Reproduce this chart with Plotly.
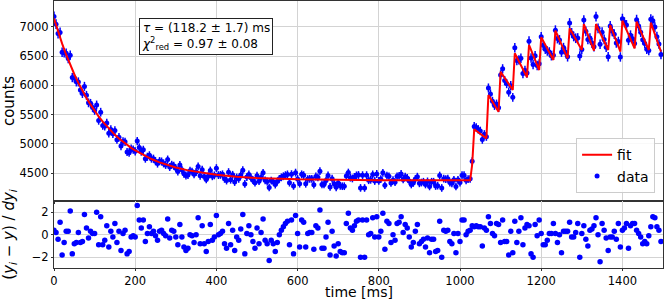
import numpy as np
import plotly.graph_objects as go
from plotly.subplots import make_subplots

# time grid [ms]
time_ms = list(range(0, 1500, 5))

counts = [
    7175, 7043, 6883, 6902, 6564, 6557, 6546, 6457, 6515, 6132,
    6126, 6059, 6058, 5919, 5861, 5982, 5829, 5702, 5693, 5623,
    5572, 5665, 5402, 5542, 5315, 5302, 5358, 5181, 5247, 5176,
    5228, 5074, 5115, 4964, 5043, 5037, 4863, 4852, 4920, 4904,
    4875, 5049, 4938, 4870, 4900, 4750, 4782, 4807, 4750, 4749,
    4707, 4666, 4708, 4701, 4669, 4643, 4734, 4608, 4645, 4628,
    4585, 4529, 4642, 4559, 4491, 4463, 4469, 4543, 4529, 4483,
    4523, 4618, 4458, 4560, 4447, 4395, 4451, 4547, 4449, 4465,
    4588, 4470, 4473, 4483, 4406, 4376, 4520, 4390, 4474, 4351,
    4428, 4405, 4469, 4553, 4318, 4436, 4480, 4425, 4383, 4341,
    4460, 4365, 4430, 4508, 4381, 4359, 4258, 4377, 4356, 4307,
    4359, 4405, 4431, 4450, 4468, 4481, 4340, 4485, 4285, 4511,
    4404, 4323, 4482, 4468, 4321, 4401, 4406, 4406, 4306, 4445,
    4431, 4537, 4310, 4310, 4376, 4462, 4268, 4408, 4322, 4261,
    4334, 4287, 4280, 4280, 4452, 4512, 4425, 4412, 4438, 4465,
    4471, 4251, 4468, 4250, 4468, 4382, 4389, 4481, 4369, 4488,
    4369, 4402, 4508, 4296, 4461, 4448, 4336, 4382, 4349, 4448,
    4455, 4488, 4395, 4442, 4422, 4369, 4309, 4336, 4402, 4442,
    4329, 4342, 4356, 4309, 4362, 4276, 4356, 4356, 4283, 4289,
    4461, 4250, 4408, 4402, 4408, 4342, 4329, 4389, 4276, 4389,
    4342, 4468, 4468, 4380, 4400, 4406, 4705, 5300, 5282, 5249,
    5223, 5075, 5164, 5125, 5955, 5853, 5729, 5656, 5682, 5618,
    6177, 6281, 6081, 6029, 5884, 5995, 5795, 6642, 6422, 6434,
    6462, 6201, 6253, 6209, 6753, 6465, 6355, 6505, 6338, 6366,
    6827, 6682, 6617, 6585, 6569, 6505, 6513, 6940, 6797, 6775,
    6566, 6643, 6565, 6486, 7062, 6894, 6833, 6803, 6807, 6500,
    6610, 7112, 6922, 6782, 6806, 6723, 6657, 7172, 6972, 6700,
    6906, 6783, 6651, 6487, 7012, 6921, 6872, 6723, 6747, 6484,
    7136, 7074, 7029, 6768, 6855, 6794, 6715, 7119, 7013, 6907,
    6777, 6713, 6616, 6594, 7127, 7103, 6994, 6830, 6706, 6524,
]

residuals = [
    0.4, 0.2, -0.4, 1.1, -1.8, -0.7, 0.3, 0.3, 2.1, -1.7,
    -0.8, -0.7, 0.2, -0.7, -0.6, 1.8, 0.6, -0.3, 0.3, 0.1,
    0.1, 2.0, -0.9, 1.6, -0.9, -0.5, 0.8, -1.1, 0.3, -0.2,
    1.0, -0.7, 0.3, -1.4, 0.1, 0.4, -1.7, -1.5, -0.2, -0.1,
    -0.2, 2.6, 1.3, 0.6, 1.3, -0.6, 0.1, 0.7, 0.1, 0.3,
    -0.1, -0.5, 0.3, 0.4, 0.1, -0.1, 1.4, -0.3, 0.4, 0.3,
    -0.2, -0.9, 0.9, -0.2, -1.1, -1.4, -1.2, 0.0, -0.1, -0.7,
    0.0, 1.5, -0.8, 0.8, -0.8, -1.5, -0.6, 0.9, -0.5, -0.2,
    1.7, 0.0, 0.1, 0.3, -0.8, -1.2, 1.0, -0.9, 0.4, -1.4,
    -0.2, -0.5, 0.5, 1.8, -1.7, 0.1, 0.8, 0.0, -0.6, -1.2,
    0.6, -0.8, 0.2, 1.4, -0.5, -0.8, -2.3, -0.5, -0.8, -1.5,
    -0.7, 0.0, 0.4, 0.7, 1.0, 1.2, -0.9, 1.3, -1.7, 1.7,
    0.1, -1.1, 1.3, 1.1, -1.1, 0.1, 0.2, 0.2, -1.3, 0.8,
    0.6, 2.2, -1.2, -1.2, -0.2, 1.1, -1.8, 0.3, -1.0, -1.9,
    -0.8, -1.5, -1.6, -1.6, 1.0, 1.9, 0.6, 0.4, 0.8, 1.2,
    1.3, -2.0, 1.3, -2.0, 1.3, 0.0, 0.1, 1.5, -0.2, 1.6,
    -0.2, 0.3, 1.9, -1.3, 1.2, 1.0, -0.7, 0.0, -0.5, 1.0,
    1.1, 1.6, 0.2, 0.9, 0.6, -0.2, -1.1, -0.7, 0.3, 0.9,
    -0.8, -0.6, -0.4, -1.1, -0.3, -1.6, -0.4, -0.4, -1.5, -1.4,
    1.2, -2.0, 0.4, 0.3, 0.4, -0.6, -0.8, 0.1, -1.6, 0.1,
    -0.6, 1.3, 1.3, 0.0, 0.3, 0.4, 0.8, 0.7, 0.8, 0.7,
    0.7, -1.0, 0.6, 0.4, 1.6, 1.0, 0.1, -0.1, 1.0, 0.9,
    -0.7, 1.3, -0.6, -0.6, -1.8, 0.3, -1.6, 1.2, -0.7, 0.3,
    1.5, -0.9, 0.6, 0.9, 0.8, -1.7, -2.0, 0.9, -0.1, 1.3,
    0.1, -0.9, -0.9, -0.5, 0.1, 0.1, 1.0, 0.1, -0.7, 0.0,
    -1.6, 0.3, 0.3, 0.3, 1.1, -0.2, -0.2, 0.2, 1.0, -2.0,
    0.1, 0.8, -0.4, -1.0, 0.4, 0.5, 0.8, 1.5, 0.0, -2.4,
    1.0, 0.4, -0.3, -1.4, -0.2, -0.2, 0.3, -0.4, 1.0, -1.1,
    0.4, 0.6, 1.0, -1.2, 0.8, 1.0, 1.0, 0.4, 0.1, -0.2,
    -0.8, -0.6, -0.8, -0.1, 0.7, 1.6, 1.5, 0.7, 0.4, -0.6,
]

fit_t = [0, 10, 20, 30, 40, 50, 60, 70, 80, 90, 100, 110, 120, 130, 140, 150,
         160, 170, 180, 190, 200, 220, 240, 260, 280, 300, 330, 360, 400, 450,
         500, 600, 700, 800, 900, 1025, 1030, 1035, 1065, 1070, 1095, 1100,
         1130, 1135, 1165, 1170, 1195, 1200, 1230, 1235, 1265, 1270, 1300,
         1305, 1330, 1335, 1365, 1370, 1395, 1400, 1430, 1435, 1465, 1470, 1495]
fit_counts = [7140, 6916, 6711, 6522, 6348, 6189, 6042, 5907, 5783, 5670, 5565,
              5469, 5381, 5300, 5225, 5156, 5094, 5036, 4983, 4934, 4889, 4810,
              4743, 4687, 4639, 4599, 4550, 4512, 4474, 4441, 4420, 4397, 4387,
              4383, 4381, 4380, 4650, 5250, 5096, 5835, 5550, 6232, 5920, 6546,
              6137, 6688, 6261, 6819, 6432, 6932, 6461, 6972, 6602, 7046, 6591,
              7046, 6602, 7029, 6574, 7102, 6631, 7085, 6602, 7068, 6574]

annotation_text = ("<i>τ</i> = (118.2 ± 1.7) ms<br>"
                   "<i>χ</i><sup>2</sup><sub>red</sub> = 0.97 ± 0.08")
x_title = "time [ms]"

x_ticks = [0, 200, 400, 600, 800, 1000, 1200, 1400]
top_ticks = [4500, 5000, 5500, 6000, 6500, 7000]
res_ticks = [-2, 0, 2]

count_err = np.sqrt(np.array(counts, dtype=float))

FONT = "DejaVu Sans"
BLUE = "#0000ff"
RED = "#ff0000"
GRID = "#d3d3d3"
SPINE = "#333333"

fig = make_subplots(rows=2, cols=1, shared_xaxes=True, vertical_spacing=0,
                    row_heights=[0.749, 0.251])

fig.add_trace(go.Scatter(
    x=time_ms, y=counts, mode="markers", name="data",
    marker=dict(color=BLUE, size=5),
    error_y=dict(type="data", array=count_err, color=BLUE, thickness=1.5, width=0),
), row=1, col=1)

fig.add_trace(go.Scatter(
    x=fit_t, y=fit_counts, mode="lines", name="fit",
    line=dict(color=RED, width=2),
), row=1, col=1)

fig.add_trace(go.Scatter(
    x=time_ms, y=residuals, mode="markers", showlegend=False,
    marker=dict(color=BLUE, size=5.5),
), row=2, col=1)

axis_common = dict(showline=True, linecolor=SPINE, linewidth=1, mirror=True,
                   showgrid=True, gridcolor=GRID, gridwidth=1, zeroline=False,
                   ticks="outside", ticklen=2, tickcolor=SPINE, automargin=False,
                   tickfont=dict(family=FONT, size=11.5, color="#000000"))

fig.update_xaxes(range=[0, 1500], tickvals=x_ticks, **axis_common)
fig.update_xaxes(showticklabels=False, row=1, col=1)

fig.update_yaxes(range=[4028, 7438], tickvals=top_ticks, row=1, col=1, **axis_common)
fig.update_yaxes(title=dict(text="counts", font=dict(family=FONT, size=15, color="#000"),
                            standoff=6), row=1, col=1)
fig.update_yaxes(range=[-2.96, 3.0], tickvals=res_ticks, row=2, col=1, **axis_common)
fig.update_yaxes(title=dict(text="(<i>y<sub>i</sub></i> − <i>y</i>) / <i>dy<sub>i</sub></i>",
                            font=dict(family=FONT, size=15, color="#000"), standoff=14),
                 row=2, col=1)

# x-axis title placed just below the tick labels
fig.add_annotation(
    xref="paper", yref="paper", x=0.5, y=-0.128, xanchor="center", yanchor="bottom",
    text=x_title, showarrow=False,
    font=dict(family=FONT, size=14, color="#000"),
)

fig.add_annotation(
    xref="paper", yref="paper", x=0.14, y=0.935, xanchor="left", yanchor="top",
    text=annotation_text, showarrow=False, align="left",
    font=dict(family=FONT, size=12, color="#000"),
    bordercolor="#222222", borderwidth=1, borderpad=2, bgcolor="#ffffff",
)

fig.update_layout(
    width=664, height=300,
    margin=dict(l=54, r=1, t=1, b=32),
    paper_bgcolor="#ffffff", plot_bgcolor="#ffffff",
    showlegend=True,
    legend=dict(x=0.987, y=0.28, xanchor="right", yanchor="bottom",
                bordercolor="#cccccc", borderwidth=1, bgcolor="rgba(255,255,255,0.85)",
                font=dict(family=FONT, size=14, color="#000"),
                traceorder="reversed", itemwidth=30),
    font=dict(family=FONT),
)

fig.write_html("out.html", config={"displayModeBar": False},
               post_script="document.body.style.margin='0px';document.body.style.overflow='hidden';")
